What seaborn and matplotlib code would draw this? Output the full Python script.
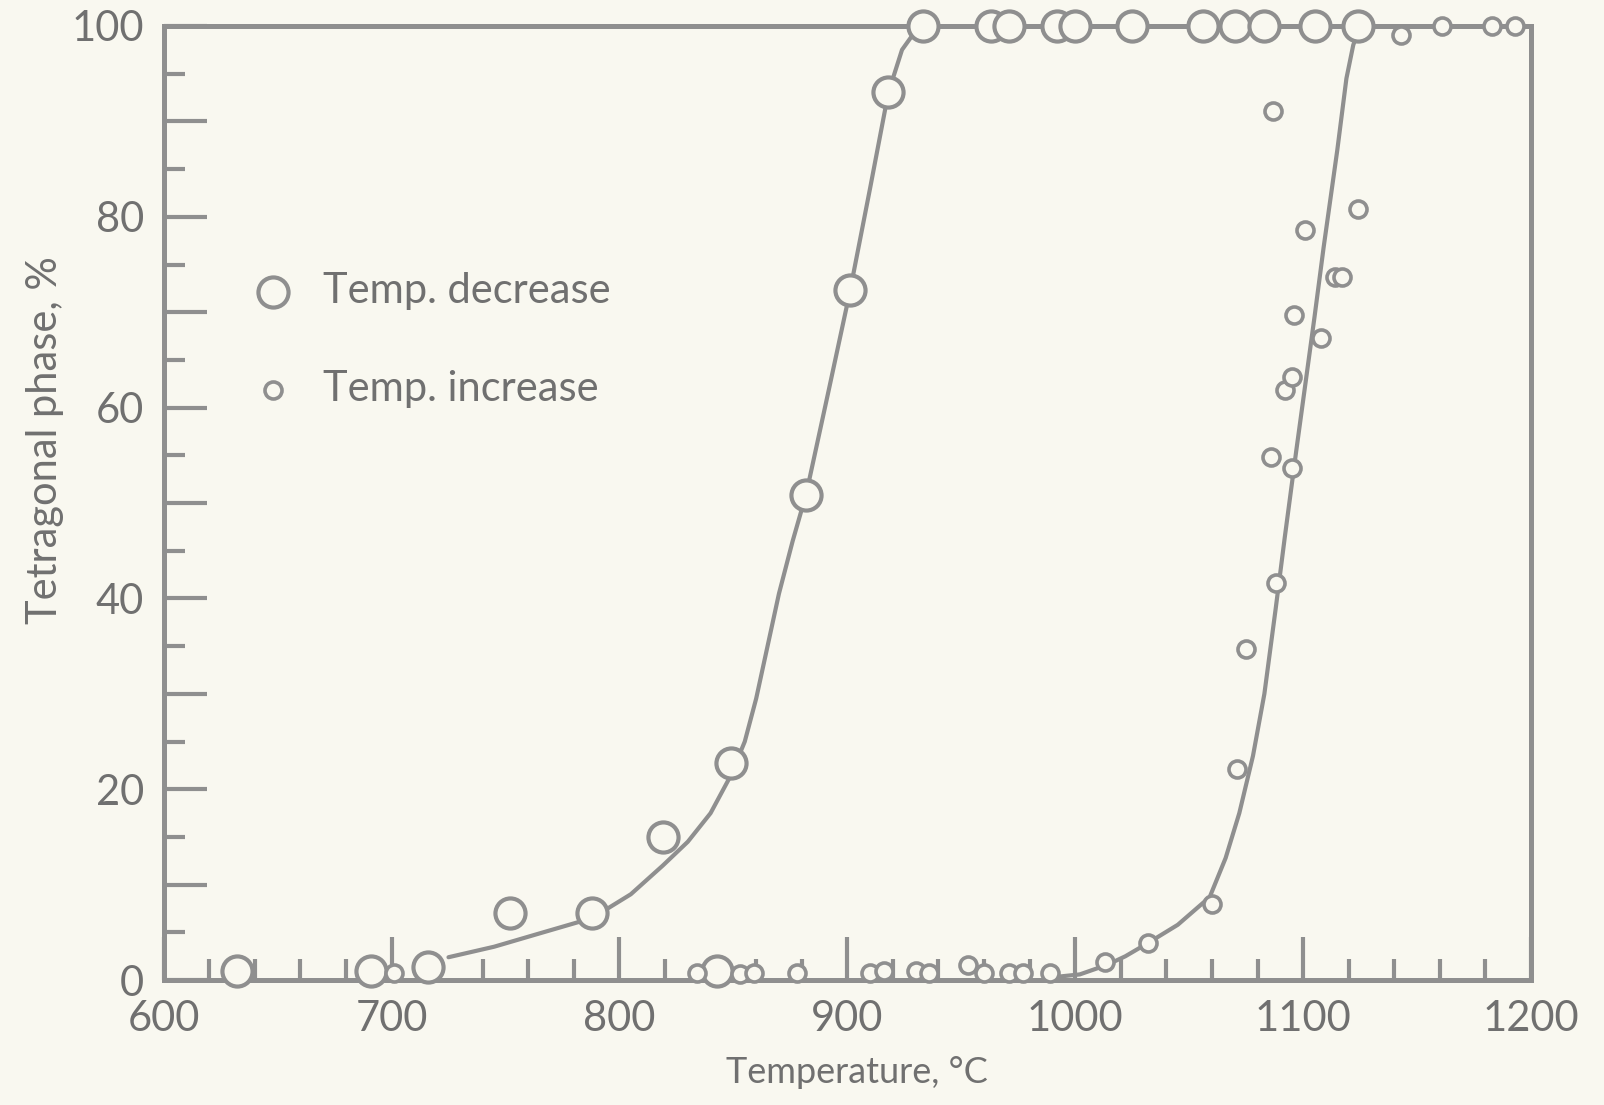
import numpy as np
import pandas as pd
import matplotlib
matplotlib.use("Agg")
import matplotlib.pyplot as plt
import seaborn as sns

# ---------------- data ----------------
dec_T = [632, 691, 716, 752, 788, 819, 843, 849, 882, 901, 918,
         933, 963, 971, 992, 1000, 1025, 1056, 1070, 1083, 1105, 1124]
dec_Y = [1.0, 1.0, 1.4, 7.0, 7.0, 15.0, 1.0, 22.8, 50.8, 72.3, 93.1,
         100, 100, 100, 100, 100, 100, 100, 100, 100, 100, 100]

inc_T = [701, 834, 853, 859, 878, 910, 916, 930, 936, 953, 960, 971, 977, 989,
         1013, 1032, 1060, 1071, 1075, 1088, 1086, 1095, 1092, 1095, 1096,
         1108, 1114, 1117, 1101, 1124, 1087, 1143, 1161, 1183, 1193]
inc_Y = [0.8, 0.8, 0.6, 0.8, 0.8, 0.8, 1.0, 1.0, 0.8, 1.6, 0.8, 0.8, 0.8, 0.8,
         1.9, 3.9, 8.0, 22.1, 34.7, 41.6, 54.8, 53.7, 61.8, 63.2, 69.7,
         67.3, 73.7, 73.7, 78.6, 80.8, 91.1, 99.1, 100, 100, 100]

dec_curve_T = [725, 745, 765, 788, 805, 819, 830, 840, 849, 855, 860, 865,
               870, 876, 882, 892, 901, 910, 918, 924, 930, 936]
dec_curve_Y = [2.4, 3.5, 4.9, 6.5, 9.0, 12.0, 14.5, 17.5, 21.5, 25.0, 29.5, 35,
               40.5, 46, 51, 62, 72, 83, 93, 97.5, 99.5, 100]

inc_curve_T = [990, 1002, 1014, 1022, 1032, 1045, 1059, 1066, 1072, 1078, 1083,
               1088, 1092, 1097, 1101, 1105, 1109, 1115, 1119, 1122, 1125]
inc_curve_Y = [0.3, 0.6, 1.6, 2.5, 3.9, 5.8, 8.7, 12.8, 17.5, 23.5, 30.0,
               39.0, 46.5, 55.5, 62.5, 69.5, 76.8, 87.0, 94.5, 98.0, 100]

x_tick_values = [600, 700, 800, 900, 1000, 1100, 1200]
x_tick_labels = ["600", "700", "800", "900", "1000", "1100", "1200"]
y_tick_values = [0, 10, 20, 30, 40, 50, 60, 70, 80, 90, 100]
y_tick_labels = ["0", "", "20", "", "40", "", "60", "", "80", "", "100"]

legend_labels = ["Temp. decrease", "Temp. increase"]
x_label = "Temperature, °C"
y_label = "Tetragonal phase, %"

# ---------------- style ----------------
BG = "#f9f8f0"
INK = "#8f8f8f"
TXT = "#707070"

sns.set_theme(style="ticks")
plt.rcParams["font.family"] = ["Lato", "DejaVu Sans"]
plt.rcParams["font.weight"] = "normal"

fig = plt.figure(figsize=(16.04, 11.05), dpi=100, facecolor=BG)
ax = fig.add_axes([0.102, 0.113, 0.8525, 0.8635])
ax.set_facecolor(BG)

dec_df = pd.DataFrame({"T": dec_T, "Y": dec_Y})
inc_df = pd.DataFrame({"T": inc_T, "Y": inc_Y})
dec_curve = pd.DataFrame({"T": dec_curve_T, "Y": dec_curve_Y})
inc_curve = pd.DataFrame({"T": inc_curve_T, "Y": inc_curve_Y})

sns.lineplot(data=dec_curve, x="T", y="Y", ax=ax, color=INK, lw=3.0,
             sort=False, zorder=2, legend=False)
sns.lineplot(data=inc_curve, x="T", y="Y", ax=ax, color=INK, lw=3.0,
             sort=False, zorder=2, legend=False)

sns.scatterplot(data=dec_df, x="T", y="Y", ax=ax, s=470, marker="o",
                facecolor=BG, edgecolor=INK, linewidth=3.0, zorder=4,
                label=legend_labels[0], clip_on=False)
sns.scatterplot(data=inc_df, x="T", y="Y", ax=ax, s=150, marker="o",
                facecolor=BG, edgecolor=INK, linewidth=2.6, zorder=5,
                label=legend_labels[1], clip_on=False)

ax.set_xlim(600, 1200)
ax.set_ylim(0, 100)

ax.set_xticks(x_tick_values)
ax.set_xticklabels(x_tick_labels)
ax.set_xticks(np.arange(600, 1201, 20), minor=True)
ax.set_yticks(y_tick_values)
ax.set_yticklabels(y_tick_labels)
ax.set_yticks(np.arange(0, 101, 5), minor=True)

ax.tick_params(axis="both", which="major", direction="in", length=31,
               width=3.0, color=INK, labelcolor=TXT, labelsize=30)
ax.tick_params(axis="both", which="minor", direction="in", length=15,
               width=3.0, color=INK)
ax.tick_params(axis="x", which="major", pad=14)
ax.tick_params(axis="y", which="major", pad=14)

for sp in ax.spines.values():
    sp.set_color(INK)
    sp.set_linewidth(3.6)
    sp.set_zorder(3)

ax.set_xlabel(x_label, fontsize=26, color=TXT)
ax.set_ylabel(y_label, fontsize=30, color=TXT)
ax.xaxis.set_label_coords(0.507, -0.08)
ax.yaxis.set_label_coords(-0.073, 0.566)

leg = ax.legend(loc="upper left", bbox_to_anchor=(0.034, 0.764), frameon=False,
                fontsize=30, labelcolor=TXT, handletextpad=0.22,
                labelspacing=1.45, borderpad=0.0)

fig.savefig("out.png", dpi=100, facecolor=BG)
